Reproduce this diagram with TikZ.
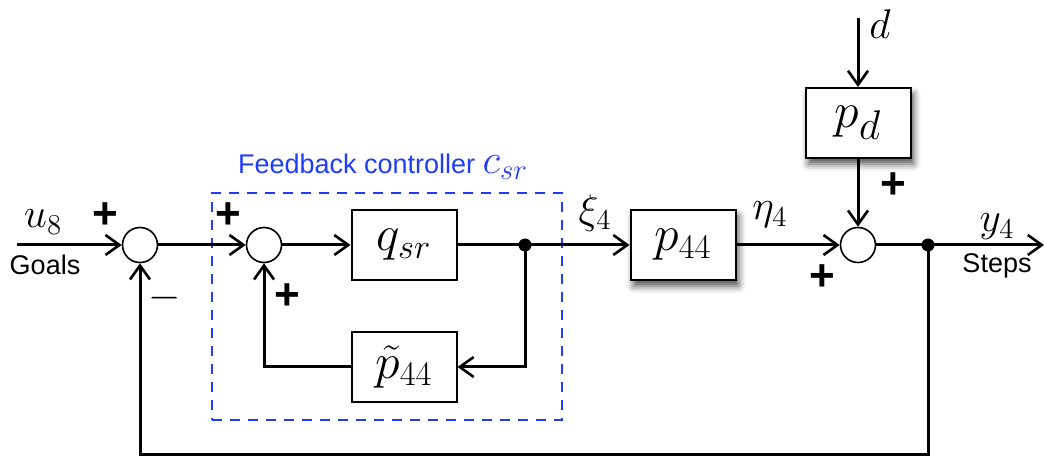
\documentclass[tikz,border=0pt]{standalone}
\usepackage{fontspec}
\setsansfont{Liberation Sans}
\usetikzlibrary{arrows.meta,shadows.blur}
\definecolor{ctrlblue}{RGB}{30,60,250}

\begin{document}
\begin{tikzpicture}[
    x = 0.5pt, y = -0.5pt,
    >={Straight Barb[length=7pt,width=10pt,line width=1.3pt]},
    sig/.style={ line width=1.5pt, -> },
    block/.style={ draw, rectangle, line width=1pt, fill=white,
      minimum width=52.5pt, minimum height=35pt, inner sep=0pt,
      font=\fontsize{24}{28}\selectfont },
    shade/.style={ blur shadow={shadow xshift=1.5pt, shadow yshift=-3pt,
      shadow blur radius=3.5pt, shadow opacity=70} },
    sum/.style={ draw, circle, line width=0.8pt, fill=white,
      minimum size=17.5pt, inner sep=0pt },
    dot/.style={ circle, fill, inner sep=0pt, minimum size=6.5pt },
    lbl/.style={ inner sep=0pt, font=\fontsize{20}{24}\selectfont },
    sgn/.style={ inner sep=0pt, font=\fontsize{22}{26}\selectfont\sffamily\bfseries },
    txt/.style={ inner sep=0pt, font=\fontsize{13.5}{16}\selectfont\sffamily }
    ]
  \useasboundingbox (0,0) rectangle (1044,459);
  \node (csr) [draw=ctrlblue, dashed, dash pattern=on 5pt off 4pt,
    line width=0.85pt, minimum width=175pt, minimum height=113.5pt]
    at (387,306.5) {};
  \node (csrlbl) [txt, text=ctrlblue] at (383,167)
    {Feedback controller {\fontsize{21}{24}\selectfont$c_{sr}$}};
  \coordinate (in) at (17,245);
  \node (sum1) [sum] at (140,245) {};
  \node (sum2) [sum] at (264,245) {};
  \node (qsr) [block] at (404,245) {$q_{sr}$};
  \node (br1) [dot] at (525,245) {};
  \node (pt44) [block] at (404,367) {$\tilde{p}_{44}$};
  \node (p44) [block, shade] at (683,245) {$p_{44}$};
  \node (sum3) [sum] at (858,245) {};
  \node (pd) [block, shade, font=\fontsize{30}{34}\selectfont] at (858,123) {$p_d$};
  \coordinate (din) at (858,18);
  \node (br2) [dot] at (928,245) {};
  \coordinate (out) at (1044,245);
  \coordinate (corner) at (928,455);
  \node (u8) [lbl] at (43,222) {$u_8$};
  \node (goals) [txt] at (45,265) {Goals};
  \node (plus1) [sgn] at (105,216) {+};
  \node (minus1) [lbl] at (165,298) {$-$};
  \node (plus2) [sgn] at (228,216) {+};
  \node (plus3) [sgn] at (287,297) {+};
  \node (xi4) [lbl] at (595,213) {$\xi_4$};
  \node (eta4) [lbl] at (770,215) {$\eta_4$};
  \node (plus4) [sgn] at (822,278) {+};
  \node (plus5) [sgn] at (893,186) {+};
  \node (dlbl) [lbl] at (880,24) {$d$};
  \node (y4) [lbl] at (997,227) {$y_4$};
  \node (steps) [txt] at (997,266) {Steps};
\draw[sig] (in) -- (sum1) ;
\draw[sig] (sum1) -- (sum2) ;
\draw[sig] (sum2) -- (qsr) ;
\draw[line width=1.5pt] (qsr) -- (br1.center) ;
\draw[sig] (br1.center) |- (pt44) ;
\draw[sig] (pt44) -| (sum2) ;
\draw[sig] (br1.center) -- (p44) ;
\draw[sig] (p44) -- (sum3) ;
\draw[sig] (din) -- (pd) ;
\draw[sig] (pd) -- (sum3) ;
\draw[line width=1.5pt] (sum3) -- (br2.center) ;
\draw[sig] (br2.center) -- (out) ;
\draw[sig] (br2.center) -- (corner) -| (sum1) ;
  \end{tikzpicture}
\end{document}
